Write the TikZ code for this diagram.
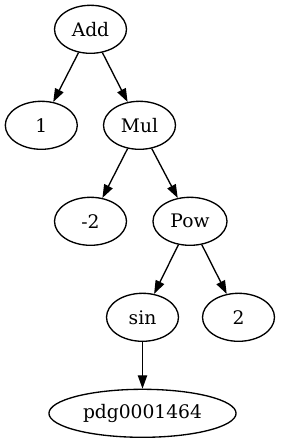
\documentclass[tikz,border=0pt]{standalone}
\usepackage{fontspec}
\setmainfont{DejaVu Serif}
\usepackage{tikz}
\usetikzlibrary{shapes.geometric, arrows.meta}

\begin{document}
\begin{tikzpicture}[
				x=0.75pt, y=-0.75pt,
				>={Triangle[length=10pt, width=7pt]},
				term/.style={draw, ellipse, line width=1pt, minimum width=54pt, minimum height=36pt, inner xsep=5pt, font=\fontsize{14}{17}\selectfont},
				arrow/.style={->, line width=1pt}
				]
				
				% Marco
				\useasboundingbox (0,0) rectangle (280,443);
				
				% Nodos
				\node[term] (add) at (90.5,29.3) {Add};
				\node[term] (one) at (41.3,125.3) {1};
				\node[term] (mul) at (139.5,125.3) {Mul};
				\node[term] (mtwo) at (90.5,221.3) {-2};
				\node[term] (pow) at (190,221.3) {Pow};
				\node[term] (sin) at (142.5,317.3) {sin};
				\node[term] (two) at (238.5,317.3) {2};
				\node[term] (pdg) at (142.5,413.3) {pdg0001464};
				
				% Aristas
				\path[arrow]
				(add) edge (one)
				(add) edge (mul)
				(mul) edge (mtwo)
				(mul) edge (pow)
				(pow) edge (sin)
				(pow) edge (two)
				(sin) edge (pdg);
				
			\end{tikzpicture}
\end{document}
